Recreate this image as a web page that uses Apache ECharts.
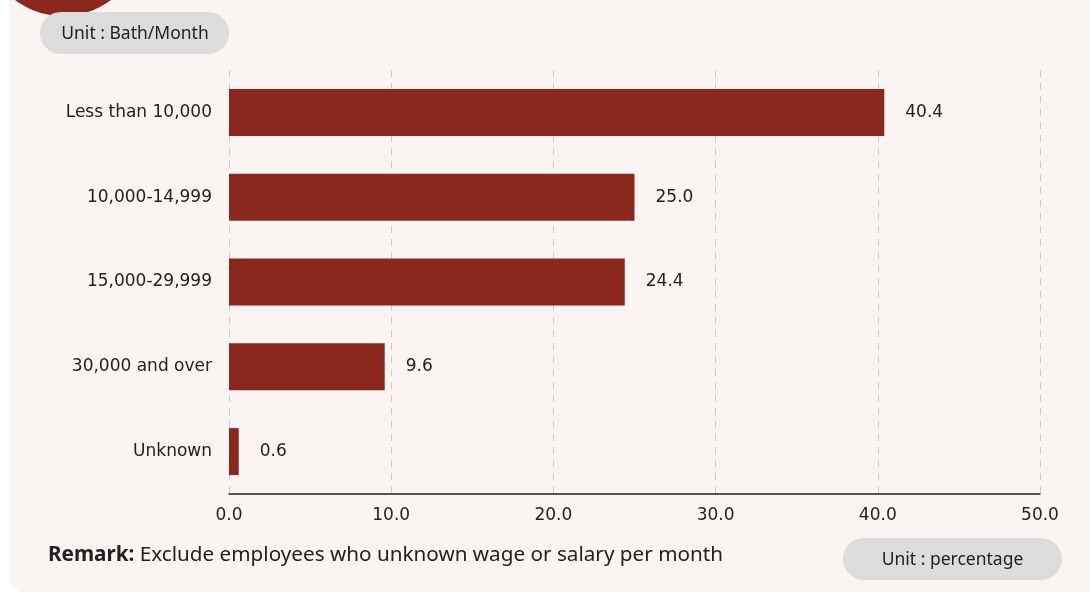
<!DOCTYPE html>
<html>
<head>
<meta charset="utf-8">
<script src="https://cdn.jsdelivr.net/npm/echarts@6/dist/echarts.min.js"></script>
<style>
  html, body { margin: 0; padding: 0; background: #ffffff; }
  #chart { width: 1090px; height: 593px; }
</style>
</head>
<body>
<div id="chart"></div>
<script>
// Monthly wage groups (Baht) and share of employees (%)
const categories = ['Less than 10,000', '10,000-14,999', '15,000-29,999', '30,000 and over', 'Unknown'];
const shares = [40.4, 25.0, 24.4, 9.6, 0.6];
const xTicks = [0, 10, 20, 30, 40, 50];

const barColor = '#8b281d';
const wideFont = '"DejaVu Sans", Verdana, sans-serif';
const chart = echarts.init(document.getElementById('chart'));

chart.setOption({
  backgroundColor: '#ffffff',
  animation: false,
  grid: { left: 229, right: 50, top: 70, bottom: 99, containLabel: false },
  xAxis: {
    type: 'value',
    min: xTicks[0],
    max: xTicks[xTicks.length - 1],
    interval: 10,
    axisLine: { show: true, lineStyle: { color: '#222', width: 1.5 } },
    axisTick: { show: false },
    axisLabel: {
      color: '#222', fontFamily: wideFont, fontSize: 17, margin: 13,
      formatter: v => v.toFixed(1)
    },
    splitLine: { show: true, lineStyle: { color: '#cccccc', type: [7, 6], width: 1 } }
  },
  yAxis: {
    type: 'category',
    inverse: true,
    data: categories,
    axisLine: { show: false },
    axisTick: { show: false },
    axisLabel: { color: '#222', fontFamily: wideFont, fontSize: 17, margin: 17 }
  },
  series: [{
    type: 'bar',
    data: shares,
    barWidth: 47,
    itemStyle: { color: barColor },
    label: {
      show: true, position: 'right', distance: 21,
      color: '#222', fontFamily: wideFont, fontSize: 17,
      formatter: p => p.value.toFixed(1)
    }
  }],
  graphic: [
    // backdrop panel
    { type: 'rect', z: -10, silent: true,
      shape: { x: 10, y: -30, width: 1110, height: 622, r: 14 },
      style: { fill: '#faf5f2' } },
    // corner badge
    { type: 'circle', z: -5, silent: true,
      shape: { cx: 63, cy: -64, r: 80 },
      style: { fill: barColor } },
    // unit pill (top)
    { type: 'rect', z: 5, silent: true,
      shape: { x: 40, y: 12, width: 189, height: 42, r: 21 },
      style: { fill: '#dcdcdc' } },
    { type: 'text', z: 6, silent: true, x: 135, y: 34,
      style: { text: 'Unit : Bath/Month', fill: '#222', font: '17.5px "Noto Sans"', align: 'center', verticalAlign: 'middle' } },
    // unit pill (bottom)
    { type: 'rect', z: 5, silent: true,
      shape: { x: 843, y: 538, width: 219, height: 42, r: 21 },
      style: { fill: '#dcdcdc' } },
    { type: 'text', z: 6, silent: true, x: 952.5, y: 560,
      style: { text: 'Unit : percentage', fill: '#222', font: '17.5px "Noto Sans"', align: 'center', verticalAlign: 'middle' } },
    // remark
    { type: 'text', z: 6, silent: true, x: 48, y: 555,
      style: {
        text: '{b|Remark:} Exclude employees who unknown wage or salary per month',
        fill: '#222', font: '20.7px "Noto Sans"', verticalAlign: 'middle',
        rich: {
          b: { fontWeight: 'bold', fontFamily: 'Noto Sans', fontSize: 20.7, fill: '#222' }
        }
      } }
  ]
});
</script>
</body>
</html>
